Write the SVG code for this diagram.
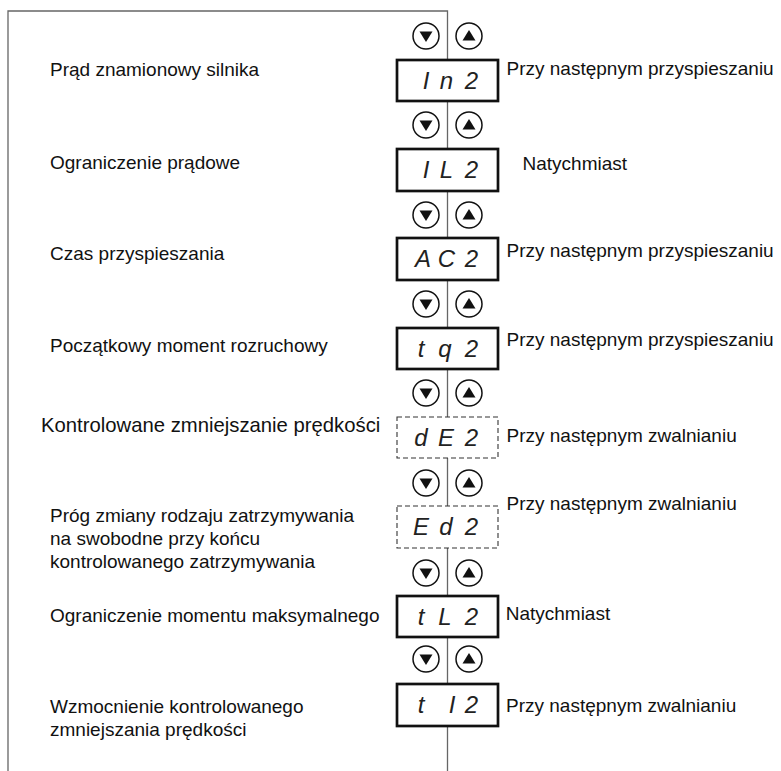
<svg xmlns="http://www.w3.org/2000/svg" width="781" height="771" viewBox="0 0 781 771">
<style>
.lbl{font-family:"Liberation Sans",Arial,sans-serif;font-size:19px;fill:#111}
.seg{font-family:"Liberation Sans",Arial,sans-serif;font-size:24px;font-style:italic;fill:#222;text-anchor:middle}
.box{fill:#fff;stroke:#111;stroke-width:2.7}
.dbox{fill:#fff;stroke:#333;stroke-width:1.1;stroke-dasharray:5 3}
.btn{fill:#fff;stroke:#111;stroke-width:1.5}
.tri{fill:#111}
.wire{fill:none;stroke:#666;stroke-width:1.3}
</style>
<defs>
<g id="btns">
<circle class="btn" cx="-21.5" cy="0" r="13"/>
<polygon class="tri" points="-28,-4.5 -15,-4.5 -21.5,6"/>
<circle class="btn" cx="21.5" cy="0" r="13"/>
<polygon class="tri" points="15,4.5 28,4.5 21.5,-6"/>
</g>
</defs>
<g id="connectors">
<polyline class="wire" points="8,771 8,11 447.5,11 447.5,771"/>
</g>
<g id="buttons">
<use href="#btns" x="447.5" y="36"/>
<use href="#btns" x="447.5" y="125"/>
<use href="#btns" x="447.5" y="215"/>
<use href="#btns" x="447.5" y="304"/>
<use href="#btns" x="447.5" y="393"/>
<use href="#btns" x="447.5" y="483"/>
<use href="#btns" x="447.5" y="573"/>
<use href="#btns" x="447.5" y="659"/>
</g>
<g id="node-In2">
<rect class="box" x="397" y="60" width="101" height="41"/>
<text class="seg" x="426 446.5 471.5" y="89">In2</text>
<text class="lbl" x="50" y="76">Prąd znamionowy silnika</text>
<text class="lbl" x="506.5" y="75">Przy następnym przyspieszaniu</text>
</g>
<g id="node-IL2">
<rect class="box" x="397" y="149" width="101" height="42"/>
<text class="seg" x="426 446.5 471.5" y="178">IL2</text>
<text class="lbl" x="50" y="169">Ograniczenie prądowe</text>
<text class="lbl" x="522.5" y="170">Natychmiast</text>
</g>
<g id="node-AC2">
<rect class="box" x="397" y="238" width="101" height="42"/>
<text class="seg" x="423 446.5 471.5" y="267">AC2</text>
<text class="lbl" x="50" y="260">Czas przyspieszania</text>
<text class="lbl" x="506.5" y="257">Przy następnym przyspieszaniu</text>
</g>
<g id="node-tq2">
<rect class="box" x="397" y="328" width="101" height="41"/>
<text class="seg" x="421 445 471.5" y="357">tq2</text>
<text class="lbl" x="50" y="351.5">Początkowy moment rozruchowy</text>
<text class="lbl" x="506.5" y="346">Przy następnym przyspieszaniu</text>
</g>
<g id="node-dE2">
<rect class="dbox" x="397" y="417" width="101" height="41"/>
<text class="seg" x="421 446 471.5" y="446">dE2</text>
<text class="lbl" x="41" y="432" style="font-size:20.3px">Kontrolowane zmniejszanie prędkości</text>
<text class="lbl" x="506.5" y="442">Przy następnym zwalnianiu</text>
</g>
<g id="node-Ed2">
<rect class="dbox" x="397" y="506" width="101" height="42"/>
<text class="seg" x="421 446 471.5" y="535">Ed2</text>
<text class="lbl" x="50" y="521.5">Próg zmiany rodzaju zatrzymywania</text>
<text class="lbl" x="50" y="545">na swobodne przy końcu</text>
<text class="lbl" x="50" y="568.3">kontrolowanego zatrzymywania</text>
<text class="lbl" x="506.5" y="509.5">Przy następnym zwalnianiu</text>
</g>
<g id="node-tL2">
<rect class="box" x="397" y="596" width="101" height="41"/>
<text class="seg" x="421 445 471.5" y="625">tL2</text>
<text class="lbl" x="50" y="621.5">Ograniczenie momentu maksymalnego</text>
<text class="lbl" x="505.7" y="620">Natychmiast</text>
</g>
<g id="node-tI2">
<rect class="box" x="397" y="684" width="101" height="42"/>
<text class="seg" x="421 452 471.5" y="713">tI2</text>
<text class="lbl" x="50" y="713">Wzmocnienie kontrolowanego</text>
<text class="lbl" x="50" y="735.5">zmniejszania prędkości</text>
<text class="lbl" x="506" y="711.5">Przy następnym zwalnianiu</text>
</g>
</svg>
